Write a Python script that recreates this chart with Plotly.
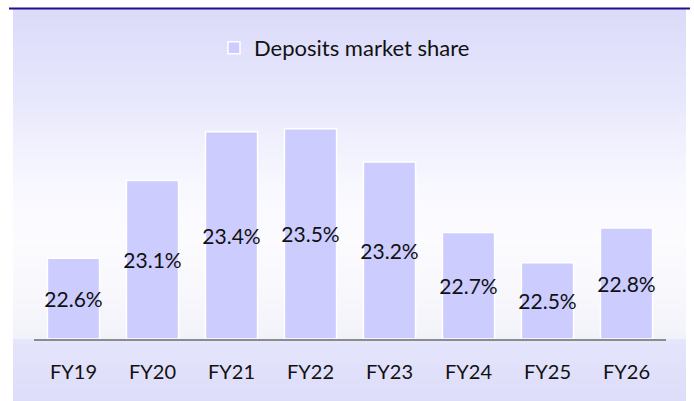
import plotly.graph_objects as go

# ---------------- data ----------------
categories = ["FY19", "FY20", "FY21", "FY22", "FY23", "FY24", "FY25", "FY26"]
share_values = [22.56, 23.10, 23.44, 23.46, 23.23, 22.74, 22.53, 22.77]
series_name = "Deposits market share"
axis_floor = 22.0
axis_ceiling = 24.0

# ---------------- geometry ----------------
W, H = 694, 401
L, R, T, B = 34, 28, 51, 62
plot_w = W - L - R
plot_h = H - T - B


def pxx(px):
    return (px - L) / plot_w


def pxy(py):
    return (H - B - py) / plot_h


FONT = "Lato, 'Open Sans', sans-serif"
TXT = "#111111"

fig = go.Figure()
fig.add_trace(go.Bar(
    x=categories,
    y=[v - axis_floor for v in share_values],
    base=axis_floor,
    name=series_name,
    text=[f"{v:.1f}%" for v in share_values],
    texttemplate="%{text}",
    textposition="inside",
    insidetextanchor="middle",
    constraintext="none",
    textangle=0,
    insidetextfont=dict(family=FONT, size=21, color=TXT),
    marker=dict(color="#CCCCFF", line=dict(color="#FFFFFF", width=1.5)),
    hoverinfo="skip",
))

# background gradient (decoration)
stops = [
    (9, (219, 219, 250)),
    (90, (230, 230, 252)),
    (180, (247, 247, 255)),
    (240, (252, 252, 255)),
    (336, (243, 243, 250)),
    (342, (228, 228, 251)),
    (401, (221, 221, 250)),
]


def col_at(py):
    for (y0, c0), (y1, c1) in zip(stops[:-1], stops[1:]):
        if y0 <= py <= y1:
            t = (py - y0) / (y1 - y0) if y1 > y0 else 0
            c = [round(a + (b - a) * t) for a, b in zip(c0, c1)]
            return f"rgb({c[0]},{c[1]},{c[2]})"
    c = stops[-1][1]
    return f"rgb({c[0]},{c[1]},{c[2]})"


shapes = []
step = 5
y = 9
while y < H:
    y2 = min(y + step, H)
    shapes.append(dict(type="rect", xref="paper", yref="paper",
                       x0=pxx(13), x1=pxx(686), y0=pxy(y2 + 0.5), y1=pxy(y),
                       fillcolor=col_at((y + y2) / 2), line=dict(width=0),
                       layer="below"))
    y = y2
# dark top rule
shapes.append(dict(type="line", xref="paper", yref="paper",
                   x0=pxx(9), x1=pxx(690), y0=pxy(8.5), y1=pxy(8.5),
                   line=dict(color="#22108A", width=2), layer="above"))

fig.update_layout(
    width=W, height=H,
    margin=dict(l=L, r=R, t=T, b=B, pad=0),
    paper_bgcolor="#FFFFFF",
    plot_bgcolor="rgba(0,0,0,0)",
    bargap=0.34,
    showlegend=True,
    legend=dict(orientation="h", x=pxx(214), xanchor="left",
                y=pxy(27), yanchor="top",
                font=dict(family=FONT, size=22, color=TXT),
                bgcolor="rgba(0,0,0,0)", borderwidth=0),
    shapes=shapes,
    xaxis=dict(showline=True, linecolor="#8C8C8C", linewidth=2,
               showgrid=False, zeroline=False, ticks="",
               ticklabelstandoff=14,
               tickfont=dict(family=FONT, size=20, color=TXT)),
    yaxis=dict(range=[axis_floor, axis_ceiling], visible=False,
               showgrid=False, zeroline=False),
)

fig.write_html("out.html",
               config={"displayModeBar": False},
               post_script="document.body.style.margin='0';document.body.style.overflow='hidden';")
